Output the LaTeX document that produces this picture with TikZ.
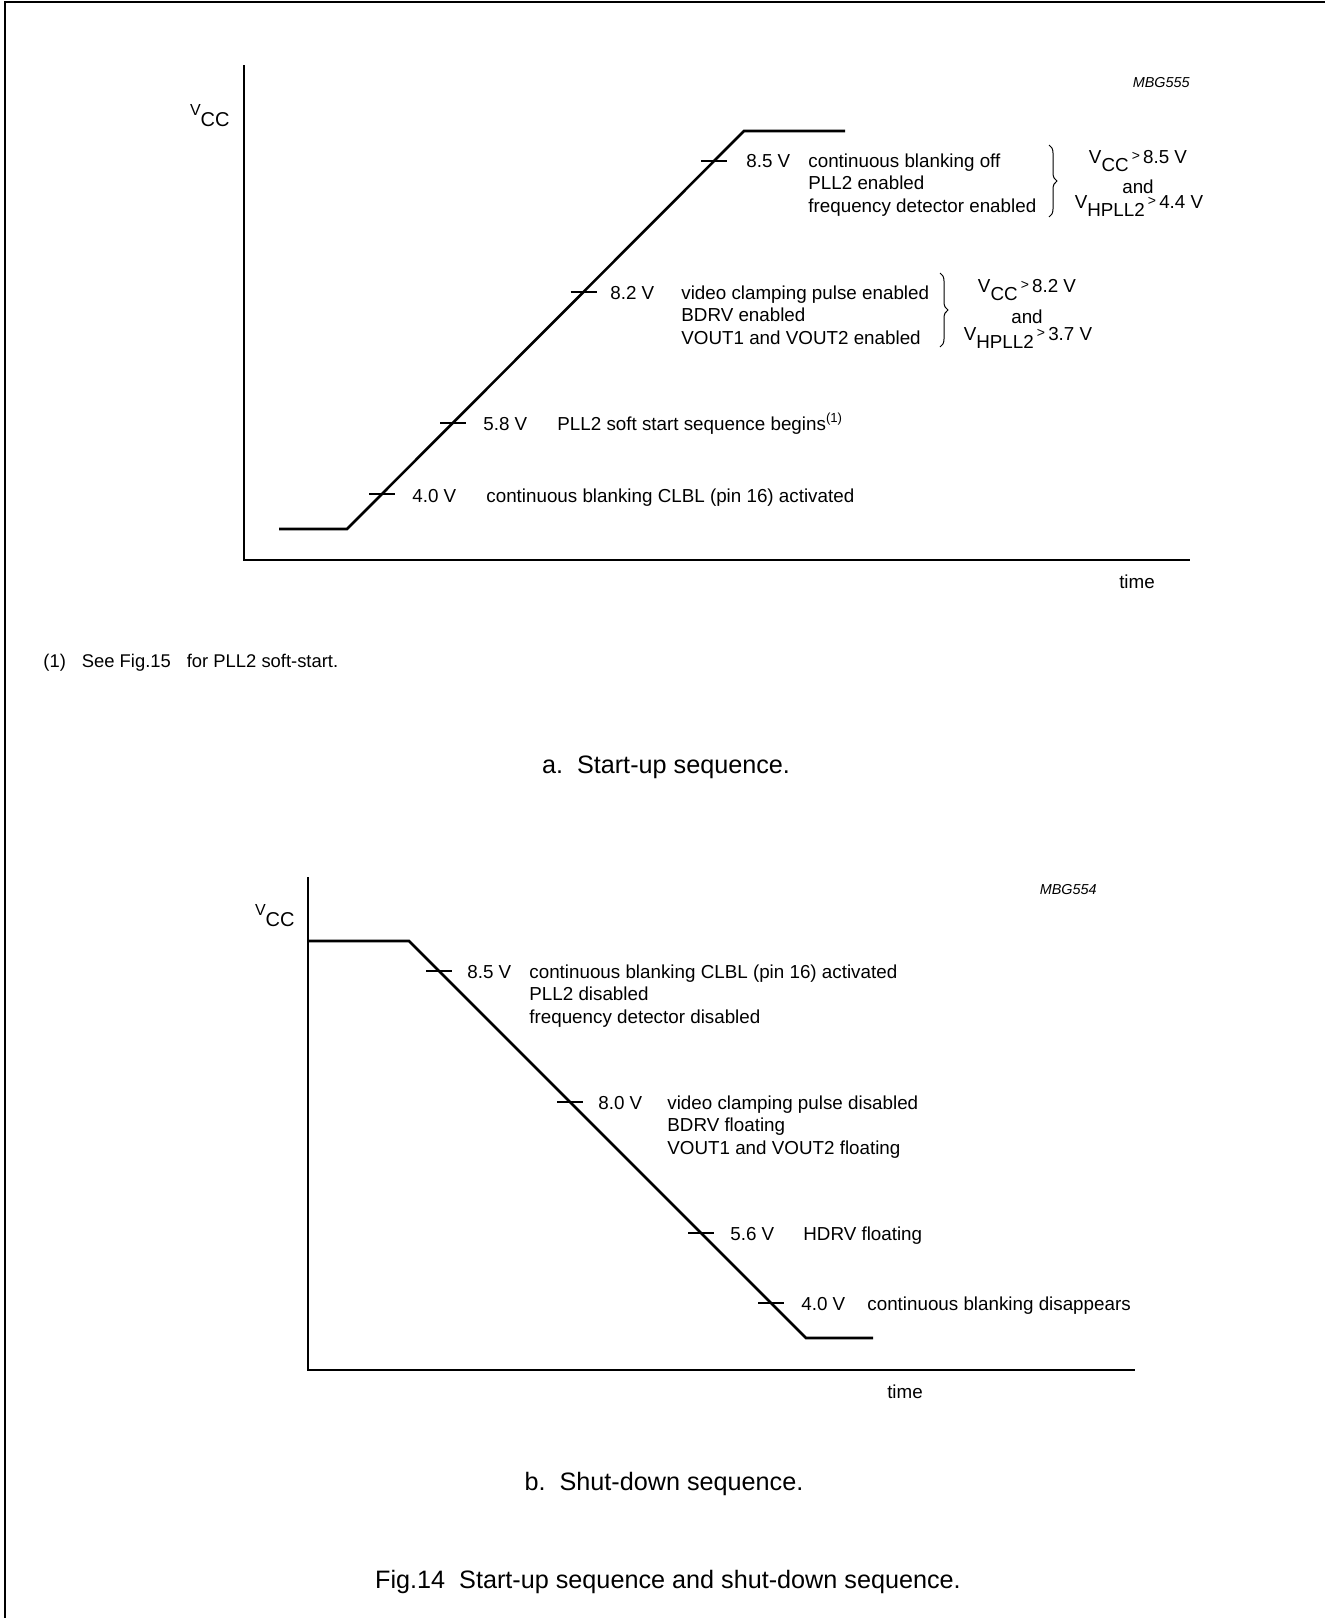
\documentclass[tikz,border=0pt]{standalone}
\usepackage{fontspec}
\setmainfont{Liberation Sans}
\usetikzlibrary{decorations.pathreplacing}
\newcommand{\lblfont}{\fontsize{9.4}{11.25}\selectfont}
\newcommand{\capfont}{\fontsize{12.6}{15}\selectfont}
\newcommand{\gtsign}{\,\raisebox{1.5pt}{\fontsize{7}{8}\selectfont >}\,}
\newcommand{\vsub}[1]{V\raisebox{-4pt}{#1}}
\newcommand{\vcclabel}{{\fontsize{8}{9}\selectfont V}\raisebox{-5.5pt}{\fontsize{10}{12}\selectfont CC}}
\tikzset{
    frameline/.style={line width=1pt},
    axisline/.style={line width=0.7pt},
    vcurve/.style={line width=1.3pt, line join=miter},
    tickmark/.style={line width=0.55pt},
    voltlbl/.style={inner sep=0pt, anchor=base west, font=\lblfont},
    % multi-line: base anchor sits on the last line
    desc/.style={inner sep=0pt, anchor=base west, font=\lblfont, align=left},
    cond/.style={inner sep=0pt, anchor=base, font=\lblfont},
    condbrace/.style={decorate, decoration={brace, amplitude=4pt}, line width=0.5pt},
    caption/.style={inner sep=0pt, font=\capfont},
    figid/.style={inner sep=0pt, anchor=base east, font=\fontsize{7.2}{8}\selectfont\itshape}
}

\begin{document}
\begin{tikzpicture}[x=0.5pt, y=-0.5pt]
    \useasboundingbox (0,0) rectangle (1325,1618);
    \draw[frameline] (5,1618) -- (5,2) -- (1325,2);

    % a. start-up
    \coordinate (oa) at (244,560);
    \coordinate (ya) at (244,65);
    \coordinate (xa) at (1190,560);
    \draw[axisline] (ya) -- (oa) -- (xa);
    \coordinate (a0) at (279,529);
    \coordinate (a1) at (347,529);
    \coordinate (a2) at (744,131);
    \coordinate (a3) at (845,131);
    \draw[vcurve] (a0) -- (a1) -- (a2) -- (a3);
    \coordinate (ta85) at (714,161);
    \coordinate (ta82) at (583.5,292);
    \coordinate (ta58) at (453,423);
    \coordinate (ta40) at (382,494);
    \foreach \t in {ta85,ta82,ta58,ta40}
        \draw[tickmark] ([xshift=-6.5pt]\t) -- ([xshift=6.5pt]\t);

    \node[inner sep=0pt, anchor=base east] (vcca) at (230,115) {\vcclabel};
    \node[figid] (ida) at (1190,87) {MBG555};
    \node[inner sep=0pt, font=\lblfont] (timea) at (1137,582) {time};

    \node[voltlbl] (va85) at (746,167) {8.5 V};
    \node[desc] (da85) at (808,212) {continuous blanking off\\
    PLL2 enabled\\
    frequency detector enabled};
    \draw[condbrace] (1049,145) -- (1049,217);
    \node[cond] (ca85) at (1138,163) {\vsub{CC}\gtsign 8.5 V};
    \node[cond] (aa85) at (1138,193) {and};
    \node[cond] (ha85) at (1139,208) {\vsub{HPLL2}\gtsign 4.4 V};

    \node[voltlbl] (va82) at (610,299) {8.2 V};
    \node[desc] (da82) at (681,344) {video clamping pulse enabled\\
    BDRV enabled\\
    VOUT1 and VOUT2 enabled};
    \draw[condbrace] (940,273) -- (940,347);
    \node[cond] (ca82) at (1027,292) {\vsub{CC}\gtsign 8.2 V};
    \node[cond] (aa82) at (1027,323) {and};
    \node[cond] (ha82) at (1028,340) {\vsub{HPLL2}\gtsign 3.7 V};

    \node[voltlbl] (va58) at (483,430) {5.8 V};
    \node[desc] (da58) at (557,430) {PLL2 soft start sequence begins\textsuperscript{(1)}};

    \node[voltlbl] (va40) at (412,502) {4.0 V};
    \node[desc] (da40) at (486,502) {continuous blanking CLBL (pin 16) activated};

    \node[inner sep=0pt, anchor=west, font=\fontsize{9.2}{11}\selectfont] (note) at (43,663) {(1)\hspace{8pt}See Fig.15\hspace{8pt}for PLL2 soft-start.};
    \node[caption] (capa) at (666,767) {a.\ \ Start-up sequence.};

    % b. shut-down
    \coordinate (ob) at (308,1370);
    \coordinate (yb) at (308,877);
    \coordinate (xb) at (1135,1370);
    \draw[axisline] (yb) -- (ob) -- (xb);
    \coordinate (b0) at (308,941);
    \coordinate (b1) at (409,941);
    \coordinate (b2) at (806,1338);
    \coordinate (b3) at (873,1338);
    \draw[vcurve] (b0) -- (b1) -- (b2) -- (b3);
    \coordinate (tb85) at (439,971);
    \coordinate (tb80) at (570,1102);
    \coordinate (tb56) at (701,1233);
    \coordinate (tb40) at (771,1303);
    \foreach \t in {tb85,tb80,tb56,tb40}
        \draw[tickmark] ([xshift=-6.5pt]\t) -- ([xshift=6.5pt]\t);

    \node[inner sep=0pt, anchor=base east] (vccb) at (295,915) {\vcclabel};
    \node[figid] (idb) at (1097,894) {MBG554};
    \node[inner sep=0pt, font=\lblfont] (timeb) at (905,1392) {time};

    \node[voltlbl] (vb85) at (467,978) {8.5 V};
    \node[desc] (db85) at (529,1023) {continuous blanking CLBL (pin 16) activated\\
    PLL2 disabled\\
    frequency detector disabled};

    \node[voltlbl] (vb80) at (598,1109) {8.0 V};
    \node[desc] (db80) at (667,1154) {video clamping pulse disabled\\
    BDRV floating\\
    VOUT1 and VOUT2 floating};

    \node[voltlbl] (vb56) at (730,1240) {5.6 V};
    \node[desc] (db56) at (803,1240) {HDRV floating};

    \node[voltlbl] (vb40) at (801,1310) {4.0 V};
    \node[desc] (db40) at (867,1310) {continuous blanking disappears};

    \node[caption] (capb) at (664,1484) {b.\ \ Shut-down sequence.};
    \node[caption] (capfig) at (668,1582) {Fig.14\ \ Start-up sequence and shut-down sequence.};
\end{tikzpicture}
\end{document}
